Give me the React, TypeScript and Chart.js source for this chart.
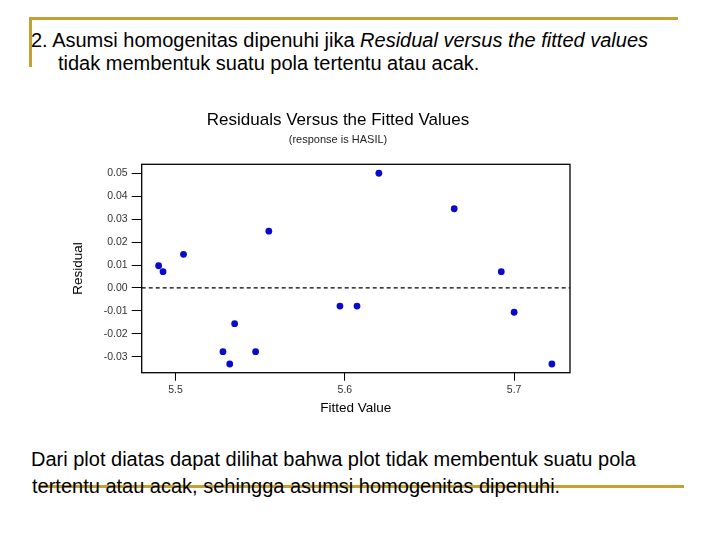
import React, { useEffect, useRef } from "react";
import { Chart, registerables } from "chart.js";

Chart.register(...registerables);

// ---- data ----
const fittedValues = [
  5.49, 5.4926, 5.5047, 5.5551, 5.528, 5.532, 5.5349, 5.5473, 5.5971, 5.6072,
  5.6201, 5.6646, 5.6924, 5.7, 5.7223,
];
const residuals = [
  0.0097, 0.0071, 0.0147, 0.0248, -0.0278, -0.0332, -0.0156, -0.0278, -0.0079,
  -0.0079, 0.0501, 0.0346, 0.0071, -0.0106, -0.0332,
];
const xTickValues = [5.5, 5.6, 5.7];
const yTickValues = [-0.03, -0.02, -0.01, 0.0, 0.01, 0.02, 0.03, 0.04, 0.05];
const xRange = [5.48, 5.733];
const yRange = [-0.037, 0.054];

const chartTitle = "Residuals Versus the Fitted Values";
const chartSubtitle = "(response is HASIL)";
const xTitle = "Fitted Value";
const yTitle = "Residual";

const GOLD = "#C4A035";
const FONT = '"Liberation Sans", Arial, sans-serif';

const framePlugin = {
  id: "frameAndZero",
  beforeDatasetsDraw(chart: any) {
    const { ctx, chartArea, scales } = chart;
    const { left, top, right, bottom } = chartArea;
    ctx.save();
    const y0 = scales.y.getPixelForValue(0);
    ctx.strokeStyle = "#000";
    ctx.lineWidth = 1.2;
    ctx.setLineDash([4, 3]);
    ctx.beginPath();
    ctx.moveTo(left, y0);
    ctx.lineTo(right, y0);
    ctx.stroke();
    ctx.setLineDash([]);
    ctx.lineWidth = 1.3;
    ctx.strokeRect(left, top, right - left, bottom - top);
    ctx.restore();
  },
};

function ResidualChart() {
  const ref = useRef<HTMLCanvasElement | null>(null);
  useEffect(() => {
    if (!ref.current) return;
    const data = fittedValues.map((x, i) => ({ x, y: residuals[i] }));
    const chart = new Chart(ref.current, {
      type: "scatter",
      data: {
        datasets: [
          {
            data,
            backgroundColor: "#0A0ACC",
            borderColor: "#0A0ACC",
            pointRadius: 3.4,
            borderWidth: 0,
          },
        ],
      },
      options: {
        animation: false,
        responsive: true,
        maintainAspectRatio: false,
        layout: { padding: 0 },
        plugins: {
          legend: { display: false },
          tooltip: { enabled: false },
          title: {
            display: true,
            text: chartTitle,
            color: "#000",
            font: { family: FONT, size: 17, weight: "normal" },
            padding: { top: 9.8, bottom: 0 },
          },
          subtitle: {
            display: true,
            text: chartSubtitle,
            color: "#222",
            font: { family: FONT, size: 11, weight: "normal" },
            padding: { top: 3.2, bottom: 17.7 },
          },
        },
        scales: {
          x: {
            type: "linear",
            min: xRange[0],
            max: xRange[1],
            afterBuildTicks: (scale: any) => {
              scale.ticks = xTickValues.map((v) => ({ value: v }));
            },
            afterFit: (scale: any) => {
              scale.height = 47.3;
            },
            border: { display: false },
            grid: {
              drawOnChartArea: false,
              drawTicks: true,
              tickLength: 8,
              color: "#000",
              lineWidth: 1,
            },
            ticks: {
              color: "#333",
              font: { family: FONT, size: 10.5 },
              padding: 3,
              maxRotation: 0,
              callback: (v: any) => Number(v).toFixed(1),
            },
            title: {
              display: true,
              text: xTitle,
              color: "#000",
              font: { family: FONT, size: 13.5 },
              padding: { top: 0, bottom: 3.6 },
            },
          },
          y: {
            type: "linear",
            min: yRange[0],
            max: yRange[1],
            afterBuildTicks: (scale: any) => {
              scale.ticks = yTickValues.map((v) => ({ value: v }));
            },
            afterFit: (scale: any) => {
              scale.width = 81.7;
            },
            border: { display: false },
            grid: {
              drawOnChartArea: false,
              drawTicks: true,
              tickLength: 10,
              color: "#000",
              lineWidth: 1,
            },
            ticks: {
              color: "#333",
              font: { family: FONT, size: 10.5 },
              padding: 4,
              callback: (v: any) => Number(v).toFixed(2),
            },
            title: {
              display: true,
              text: yTitle,
              color: "#000",
              font: { family: FONT, size: 13.5 },
              padding: { top: 10.5, bottom: 0 },
            },
          },
          // empty right-hand spacer so the titles center over the whole plot image
          yRight: {
            type: "linear",
            position: "right",
            display: true,
            border: { display: false },
            grid: { display: false, drawTicks: false },
            ticks: { display: false },
            afterFit: (scale: any) => {
              scale.width = 46;
            },
          },
        },
      },
      plugins: [framePlugin],
    });
    return () => chart.destroy();
  }, []);
  return (
    <div
      style={{ position: "absolute", left: 60, top: 100, width: 556, height: 320 }}
    >
      <canvas ref={ref} />
    </div>
  );
}

const textBase: React.CSSProperties = {
  position: "absolute",
  fontFamily: FONT,
  fontSize: 20,
  lineHeight: "20px",
  color: "#000",
  whiteSpace: "nowrap",
};

export default function App() {
  return (
    <div
      style={{
        position: "absolute",
        left: 0,
        top: 0,
        width: 720,
        height: 540,
        background: "#fff",
        overflow: "hidden",
      }}
    >
      {/* decorative gold rules */}
      <div style={{ position: "absolute", left: 29, top: 16.5, width: 649, height: 3, background: GOLD }} />
      <div style={{ position: "absolute", left: 29, top: 16.5, width: 3, height: 50, background: GOLD }} />
      <div style={{ position: "absolute", left: 40, top: 484.8, width: 644, height: 3, background: GOLD }} />

      <div style={{ ...textBase, left: 31, top: 29.8 }}>
        2. Asumsi homogenitas dipenuhi jika <i>Residual versus the fitted values</i>
      </div>
      <div style={{ ...textBase, left: 58, top: 53 }}>
        tidak membentuk suatu pola tertentu atau acak.
      </div>

      <ResidualChart />

      <div style={{ ...textBase, left: 31, top: 449 }}>
        Dari plot diatas dapat dilihat bahwa plot tidak membentuk suatu pola
      </div>
      <div style={{ ...textBase, left: 32, top: 476 }}>
        tertentu atau acak, sehingga asumsi homogenitas dipenuhi.
      </div>
    </div>
  );
}
